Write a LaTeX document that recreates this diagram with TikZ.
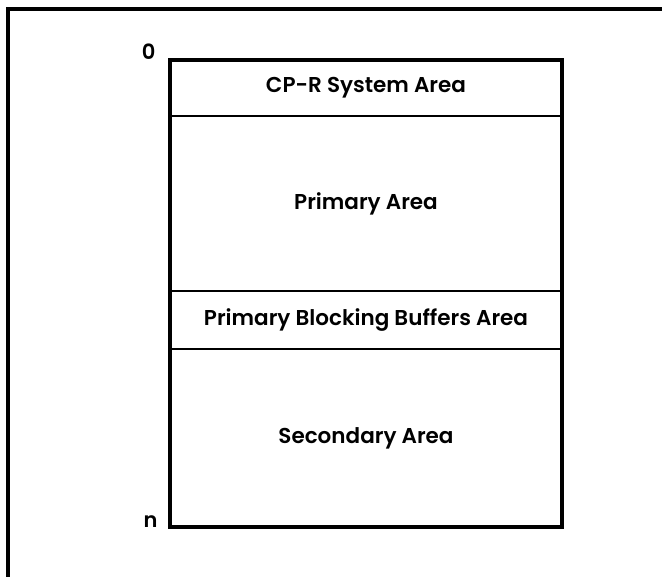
\documentclass[tikz,border=0pt]{standalone}
\usepackage{fontspec}
\setmainfont{Poppins}[BoldFont=Poppins SemiBold]
\begin{document}
\begin{tikzpicture}[x=1pt,y=-1pt,
  area/.style={draw,line width=1.6pt,minimum width=392pt,inner sep=0pt,outer sep=0pt,font=\fontsize{21.5}{24}\selectfont\bfseries,anchor=north},
  lbl/.style={font=\fontsize{21}{22}\selectfont\bfseries}]
\useasboundingbox (0,0) rectangle (667,576);
\draw[line width=3.4pt] (8,578) -- (8,9) -- (662,9);
\node[area,minimum height=56pt] (sys) at (366,60) {CP-R System Area};
\node[area,minimum height=175pt] (pri) at (366,116) {Primary Area};
\node[area,minimum height=58pt] (pbb) at (366,291) {Primary Blocking Buffers Area};
\node[area,minimum height=178pt] (sec) at (366,349) {Secondary Area};
\draw[line width=3.4pt] (sys.north west) rectangle (sec.south east);
\node[lbl,anchor=east] (zero) at (159,52) {0};
\node[lbl,anchor=east] (en) at (161,522) {n};
\end{tikzpicture}
\end{document}
